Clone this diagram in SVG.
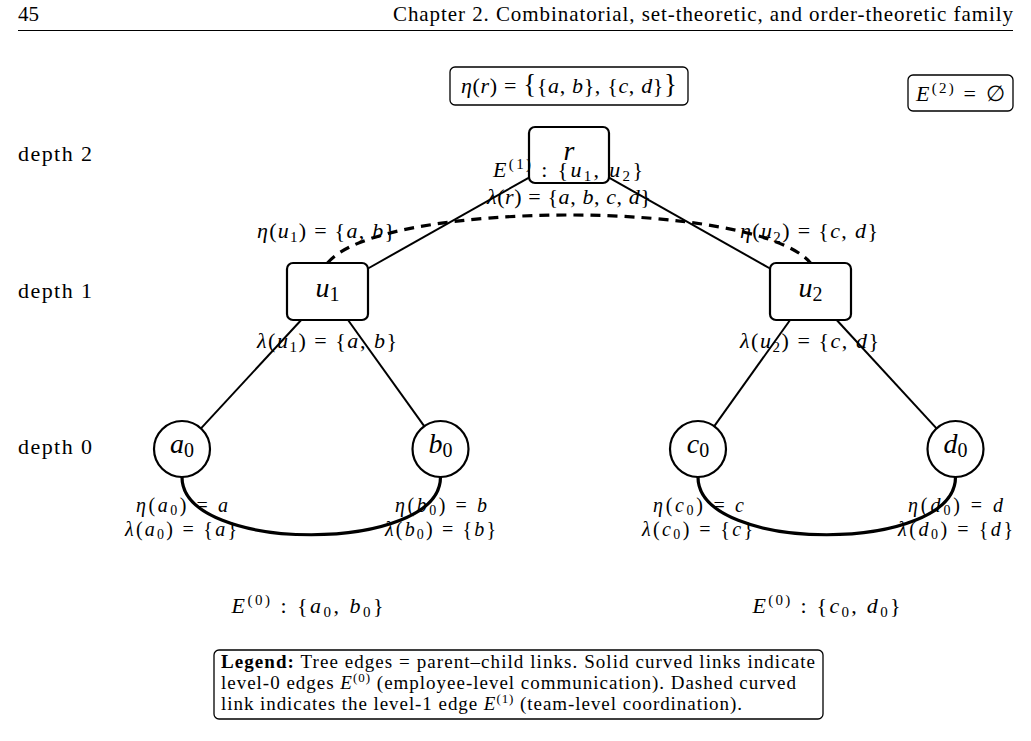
<svg xmlns="http://www.w3.org/2000/svg" width="1031" height="741" viewBox="0 0 1031 741">
<style>
text { font-family: "Liberation Serif", "Times New Roman", serif; fill: #000; }
.lab { font-size: 22px; }
.lf { font-size: 20px; }
.hd { font-size: 21px; }
.dep { font-size: 22px; }
.leg { font-size: 19px; }
.nd { font-size: 28px; }
.m { font-style: italic; }
.sub { font-size: 15px; }
.lsub { font-size: 13px; }
.fsub { font-size: 14px; }
.ndsub { font-size: 20px; }
.box { fill: #fff; stroke: #000; stroke-width: 2.2; }
.info { fill: #fff; stroke: #000; stroke-width: 1.3; }
.tree { stroke: #000; stroke-width: 2; fill: none; }
.e0 { stroke: #000; stroke-width: 3.2; fill: none; }
.e1 { stroke: #000; stroke-width: 3.2; fill: none; stroke-dasharray: 10 7; }
.rule { stroke: #000; stroke-width: 1; }
</style>

<!-- page header -->
<g id="header">
  <text class="hd" x="18" y="21">45</text>
  <text class="hd" x="393" y="21" textLength="620">Chapter 2.  Combinatorial, set-theoretic, and order-theoretic family</text>
  <line class="rule" x1="18" y1="30.5" x2="1013" y2="30.5"/>
</g>

<!-- depth labels -->
<g id="depths">
  <text class="dep" x="18" y="161" textLength="74">depth 2</text>
  <text class="dep" x="18" y="298" textLength="74">depth 1</text>
  <text class="dep" x="18" y="454" textLength="74">depth 0</text>
</g>

<!-- info boxes -->
<g id="eta-r-box">
  <rect class="info" x="450" y="67" width="238" height="38" rx="5"/>
  <text class="lab" x="569" y="93" text-anchor="middle" textLength="216"><tspan class="m">η</tspan>(<tspan class="m">r</tspan>) = <tspan font-size="27">{</tspan>{<tspan class="m">a</tspan>, <tspan class="m">b</tspan>}, {<tspan class="m">c</tspan>, <tspan class="m">d</tspan>}<tspan font-size="27">}</tspan></text>
</g>
<g id="E2-box">
  <rect class="info" x="908" y="75" width="105" height="36" rx="5"/>
  <text class="lab" x="960.5" y="101" text-anchor="middle" textLength="89"><tspan class="m">E</tspan><tspan class="sub" dy="-8">(2)</tspan><tspan dy="8"> = ∅</tspan></text>
</g>

<!-- connectors -->
<g id="connectors">
  <line class="tree" x1="529" y1="177.6" x2="368" y2="268.5"/>
  <line class="tree" x1="609" y1="177.6" x2="770" y2="268.5"/>
  <line class="tree" x1="301.2" y1="320" x2="201" y2="428.4"/>
  <line class="tree" x1="348" y1="320" x2="424.2" y2="426.2"/>
  <line class="tree" x1="790.1" y1="320" x2="714.3" y2="426.2"/>
  <line class="tree" x1="836.7" y1="320" x2="936.5" y2="428.4"/>
  <path class="e0" d="M182 477 C182 554 440.5 554 440.5 477"/>
  <path class="e0" d="M698 477 C698 554 955.5 554 955.5 477"/>
  <path class="e1" d="M327.5 263 C380 199 757 199 810.5 263"/>
</g>

<!-- node r -->
<g id="node-r">
  <rect class="box" x="529" y="127" width="80" height="56" rx="6"/>
  <text class="nd m" x="569" y="160" text-anchor="middle">r</text>
  <text class="lab" x="568" y="177" text-anchor="middle" textLength="150"><tspan class="m">E</tspan><tspan class="sub" dy="-8">(1)</tspan><tspan dy="8"> : {</tspan><tspan class="m">u</tspan><tspan class="sub" dy="4">1</tspan><tspan dy="-4">, </tspan><tspan class="m">u</tspan><tspan class="sub" dy="4">2</tspan><tspan dy="-4">}</tspan></text>
  <text class="lab" x="569" y="204" text-anchor="middle" textLength="164"><tspan class="m">λ</tspan>(<tspan class="m">r</tspan>) = {<tspan class="m">a</tspan>, <tspan class="m">b</tspan>, <tspan class="m">c</tspan>, <tspan class="m">d</tspan>}</text>
</g>

<!-- node u1 -->
<g id="node-u1">
  <rect class="box" x="287" y="263" width="81" height="57" rx="6"/>
  <text class="nd" x="327.5" y="297" text-anchor="middle"><tspan class="m">u</tspan><tspan class="ndsub" dy="4">1</tspan></text>
  <text class="lab" x="326" y="238" text-anchor="middle" textLength="138"><tspan class="m">η</tspan>(<tspan class="m">u</tspan><tspan class="sub" dy="4">1</tspan><tspan dy="-4">) = {</tspan><tspan class="m">a</tspan>, <tspan class="m">b</tspan>}</text>
  <text class="lab" x="327" y="348" text-anchor="middle" textLength="140"><tspan class="m">λ</tspan>(<tspan class="m">u</tspan><tspan class="sub" dy="4">1</tspan><tspan dy="-4">) = {</tspan><tspan class="m">a</tspan>, <tspan class="m">b</tspan>}</text>
</g>

<!-- node u2 -->
<g id="node-u2">
  <rect class="box" x="770" y="263" width="81" height="57" rx="6"/>
  <text class="nd" x="810.5" y="297" text-anchor="middle"><tspan class="m">u</tspan><tspan class="ndsub" dy="4">2</tspan></text>
  <text class="lab" x="809" y="238" text-anchor="middle" textLength="138"><tspan class="m">η</tspan>(<tspan class="m">u</tspan><tspan class="sub" dy="4">2</tspan><tspan dy="-4">) = {</tspan><tspan class="m">c</tspan>, <tspan class="m">d</tspan>}</text>
  <text class="lab" x="809.5" y="348" text-anchor="middle" textLength="139"><tspan class="m">λ</tspan>(<tspan class="m">u</tspan><tspan class="sub" dy="4">2</tspan><tspan dy="-4">) = {</tspan><tspan class="m">c</tspan>, <tspan class="m">d</tspan>}</text>
</g>

<!-- leaves -->
<g id="node-a0">
  <circle class="box" cx="182" cy="449" r="28"/>
  <text class="nd" x="182" y="453" text-anchor="middle"><tspan class="m">a</tspan><tspan class="ndsub" dy="4">0</tspan></text>
  <text class="lf" x="182" y="512" text-anchor="middle" textLength="92"><tspan class="m">η</tspan>(<tspan class="m">a</tspan><tspan class="fsub" dy="3">0</tspan><tspan dy="-3">) = </tspan><tspan class="m">a</tspan></text>
  <text class="lf" x="181" y="536" text-anchor="middle" textLength="112"><tspan class="m">λ</tspan>(<tspan class="m">a</tspan><tspan class="fsub" dy="3">0</tspan><tspan dy="-3">) = {</tspan><tspan class="m">a</tspan>}</text>
</g>
<g id="node-b0">
  <circle class="box" cx="440.5" cy="449" r="28"/>
  <text class="nd" x="440.5" y="453" text-anchor="middle"><tspan class="m">b</tspan><tspan class="ndsub" dy="4">0</tspan></text>
  <text class="lf" x="441" y="512" text-anchor="middle" textLength="92"><tspan class="m">η</tspan>(<tspan class="m">b</tspan><tspan class="fsub" dy="3">0</tspan><tspan dy="-3">) = </tspan><tspan class="m">b</tspan></text>
  <text class="lf" x="440.5" y="536" text-anchor="middle" textLength="111"><tspan class="m">λ</tspan>(<tspan class="m">b</tspan><tspan class="fsub" dy="3">0</tspan><tspan dy="-3">) = {</tspan><tspan class="m">b</tspan>}</text>
</g>
<g id="node-c0">
  <circle class="box" cx="698" cy="449" r="28"/>
  <text class="nd" x="698" y="453" text-anchor="middle"><tspan class="m">c</tspan><tspan class="ndsub" dy="4">0</tspan></text>
  <text class="lf" x="698.5" y="512" text-anchor="middle" textLength="91"><tspan class="m">η</tspan>(<tspan class="m">c</tspan><tspan class="fsub" dy="3">0</tspan><tspan dy="-3">) = </tspan><tspan class="m">c</tspan></text>
  <text class="lf" x="697.5" y="536" text-anchor="middle" textLength="111"><tspan class="m">λ</tspan>(<tspan class="m">c</tspan><tspan class="fsub" dy="3">0</tspan><tspan dy="-3">) = {</tspan><tspan class="m">c</tspan>}</text>
</g>
<g id="node-d0">
  <circle class="box" cx="955.5" cy="449" r="28"/>
  <text class="nd" x="955.5" y="453" text-anchor="middle"><tspan class="m">d</tspan><tspan class="ndsub" dy="4">0</tspan></text>
  <text class="lf" x="955.5" y="512" text-anchor="middle" textLength="95"><tspan class="m">η</tspan>(<tspan class="m">d</tspan><tspan class="fsub" dy="3">0</tspan><tspan dy="-3">) = </tspan><tspan class="m">d</tspan></text>
  <text class="lf" x="955.5" y="536" text-anchor="middle" textLength="115"><tspan class="m">λ</tspan>(<tspan class="m">d</tspan><tspan class="fsub" dy="3">0</tspan><tspan dy="-3">) = {</tspan><tspan class="m">d</tspan>}</text>
</g>

<!-- level-0 edge sets -->
<g id="E0-labels">
  <text class="lab" x="307.5" y="613" text-anchor="middle" textLength="152"><tspan class="m">E</tspan><tspan class="sub" dy="-8">(0)</tspan><tspan dy="8"> :  {</tspan><tspan class="m">a</tspan><tspan class="sub" dy="4">0</tspan><tspan dy="-4">, </tspan><tspan class="m">b</tspan><tspan class="sub" dy="4">0</tspan><tspan dy="-4">}</tspan></text>
  <text class="lab" x="826.5" y="613" text-anchor="middle" textLength="148"><tspan class="m">E</tspan><tspan class="sub" dy="-8">(0)</tspan><tspan dy="8"> :  {</tspan><tspan class="m">c</tspan><tspan class="sub" dy="4">0</tspan><tspan dy="-4">, </tspan><tspan class="m">d</tspan><tspan class="sub" dy="4">0</tspan><tspan dy="-4">}</tspan></text>
</g>

<!-- legend -->
<g id="legend">
  <rect class="info" x="214" y="650" width="609" height="69" rx="5"/>
  <text class="leg" x="221" y="668" textLength="594"><tspan font-weight="bold">Legend:</tspan> Tree edges = parent–child links.  Solid curved links indicate</text>
  <text class="leg" x="221" y="689" textLength="575">level-0 edges <tspan class="m">E</tspan><tspan class="lsub" dy="-7">(0)</tspan><tspan dy="7"> (employee-level communication).  Dashed curved</tspan></text>
  <text class="leg" x="221" y="710" textLength="521">link indicates the level-1 edge <tspan class="m">E</tspan><tspan class="lsub" dy="-7">(1)</tspan><tspan dy="7"> (team-level coordination).</tspan></text>
</g>
</svg>
